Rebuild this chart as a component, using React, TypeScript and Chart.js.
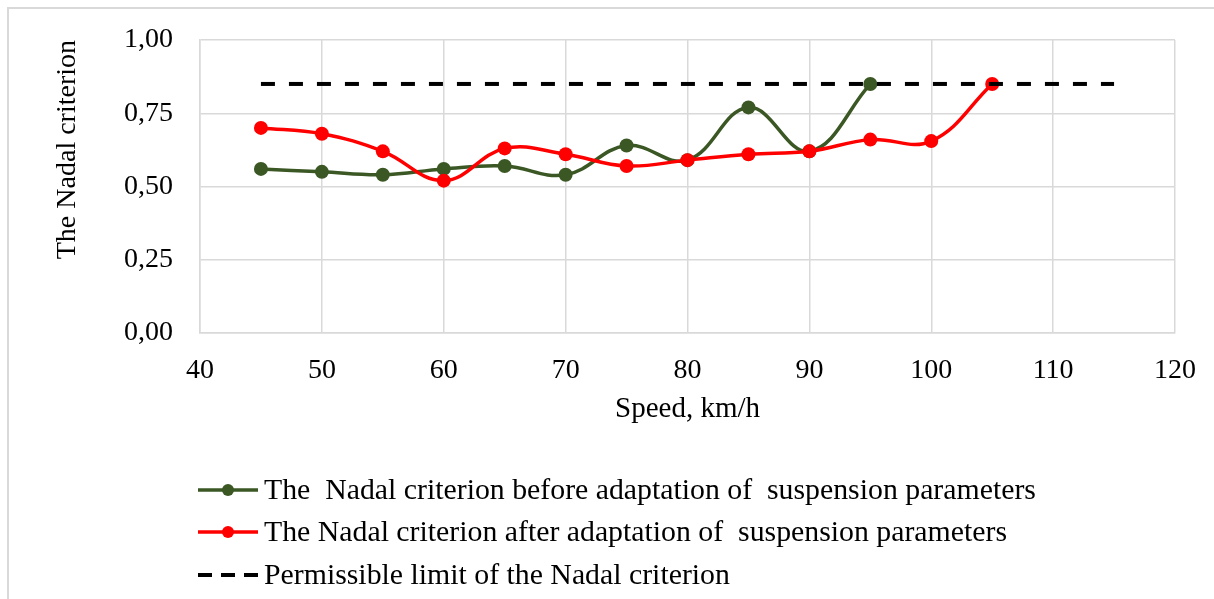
import React, { useEffect, useRef } from "react";
import { Chart, registerables } from "chart.js";

Chart.register(...registerables);

const speedsBefore = [45, 50, 55, 60, 65, 70, 75, 80, 85, 90, 95];
const nadalBefore = [0.56, 0.55, 0.54, 0.56, 0.57, 0.54, 0.64, 0.59, 0.77, 0.62, 0.85];
const speedsAfter = [45, 50, 55, 60, 65, 70, 75, 80, 85, 90, 95, 100, 105];
const nadalAfter = [0.7, 0.68, 0.62, 0.52, 0.63, 0.61, 0.57, 0.59, 0.61, 0.62, 0.66, 0.655, 0.85];
const limitSpeeds = [45, 115];
const limitValue = 0.85;

const labelBefore = "The  Nadal criterion before adaptation of  suspension parameters";
const labelAfter = "The Nadal criterion after adaptation of  suspension parameters";
const labelLimit = "Permissible limit of the Nadal criterion";
const xTitle = "Speed, km/h";
const yTitle = "The Nadal criterion";

const GREEN = "#3a5724";
const RED = "#ff0000";
const GRID = "#d9d9d9";
const FONT = '"Liberation Serif", "Times New Roman", serif';

const frameAndLegend = {
  id: "frameAndLegend",
  beforeDraw(chart: any) {
    const ctx = chart.ctx;
    ctx.save();
    ctx.strokeStyle = GRID;
    ctx.lineWidth = 2;
    ctx.beginPath();
    ctx.moveTo(8, chart.height + 2);
    ctx.lineTo(8, 8);
    ctx.lineTo(chart.width + 2, 8);
    ctx.stroke();
    ctx.restore();
  },
  afterDraw(chart: any) {
    const ctx = chart.ctx;
    const rows = [490, 532, 575];
    chart.data.datasets.forEach((ds: any, i: number) => {
      const y = rows[i];
      ctx.save();
      ctx.strokeStyle = ds.borderColor;
      ctx.lineWidth = ds.borderWidth;
      ctx.setLineDash(ds.borderDash ? [14, 9] : []);
      ctx.beginPath();
      ctx.moveTo(198, y);
      ctx.lineTo(258, y);
      ctx.stroke();
      ctx.setLineDash([]);
      if (ds.pointRadius > 0) {
        ctx.fillStyle = ds.pointBackgroundColor;
        ctx.beginPath();
        ctx.arc(228, y, 6, 0, Math.PI * 2);
        ctx.fill();
      }
      ctx.fillStyle = "#000";
      ctx.font = `29.8px ${FONT}`;
      ctx.textBaseline = "middle";
      ctx.textAlign = "left";
      ctx.fillText(ds.label, 264, y + 1);
      ctx.restore();
    });
  },
};

export default function App() {
  const ref = useRef<HTMLCanvasElement | null>(null);

  useEffect(() => {
    if (!ref.current) return;
    const chart = new Chart(ref.current, {
      type: "line",
      data: {
        datasets: [
          {
            label: labelBefore,
            data: speedsBefore.map((x, i) => ({ x, y: nadalBefore[i] })),
            borderColor: GREEN,
            backgroundColor: GREEN,
            pointBackgroundColor: GREEN,
            pointBorderColor: GREEN,
            borderWidth: 3.5,
            pointRadius: 7,
            pointBorderWidth: 0,
            tension: 0.4,
            order: 2,
          },
          {
            label: labelAfter,
            data: speedsAfter.map((x, i) => ({ x, y: nadalAfter[i] })),
            borderColor: RED,
            backgroundColor: RED,
            pointBackgroundColor: RED,
            pointBorderColor: RED,
            borderWidth: 3.5,
            pointRadius: 7,
            pointBorderWidth: 0,
            tension: 0.4,
            order: 1,
          },
          {
            label: labelLimit,
            data: limitSpeeds.map((x) => ({ x, y: limitValue })),
            borderColor: "#000000",
            backgroundColor: "#000000",
            borderWidth: 4,
            borderDash: [14, 14],
            pointRadius: 0,
            tension: 0,
            order: 0,
          },
        ] as any,
      },
      options: {
        animation: false,
        responsive: false,
        maintainAspectRatio: false,
        layout: { padding: { left: 0, right: 39, top: 40, bottom: 166 } },
        plugins: {
          legend: { display: false },
          tooltip: { enabled: false },
        },
        scales: {
          x: {
            type: "linear",
            min: 40,
            max: 120,
            ticks: {
              stepSize: 10,
              padding: 0,
              color: "#000",
              font: { family: FONT, size: 28 },
            },
            grid: { color: GRID, lineWidth: 1.5, drawTicks: true, tickLength: 21, tickColor: "rgba(0,0,0,0)" },
            border: { color: GRID, width: 1.5 },
            title: {
              display: true,
              text: xTitle,
              color: "#000",
              font: { family: FONT, size: 29 },
              padding: { top: 0, bottom: 6 },
            },
            afterFit: (s: any) => {
              s.height = 100;
            },
          },
          y: {
            type: "linear",
            min: 0,
            max: 1,
            ticks: {
              stepSize: 0.25,
              padding: 0,
              color: "#000",
              font: { family: FONT, size: 28 },
              callback: (v: any) => Number(v).toFixed(2).replace(".", ","),
            },
            grid: { color: GRID, lineWidth: 1.5, drawTicks: true, tickLength: 27, tickColor: "rgba(0,0,0,0)" },
            border: { color: GRID, width: 1.5 },
            title: {
              display: true,
              text: yTitle,
              align: "end",
              color: "#000",
              font: { family: FONT, size: 28 },
              padding: { top: 51, bottom: 0 },
            },
            afterFit: (s: any) => {
              s.width = 200;
            },
          },
        },
      },
      plugins: [frameAndLegend],
    });
    return () => chart.destroy();
  }, []);

  return (
    <div style={{ position: "fixed", left: 0, top: 0, width: 1214, height: 599, overflow: "hidden", background: "#fff" }}>
      <canvas ref={ref} width={1214} height={599} style={{ display: "block", width: 1214, height: 599 }} />
    </div>
  );
}
